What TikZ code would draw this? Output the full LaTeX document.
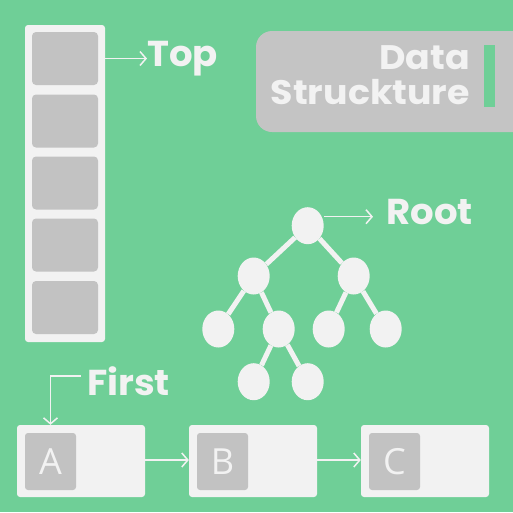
\documentclass[tikz,border=0pt]{standalone}
\usepackage{fontspec}
\setmainfont{Poppins}
\newfontfamily\titlefont[FakeStretch=1.07]{Poppins}
\newfontfamily\labelfont[FakeStretch=1.03]{Poppins}
\newfontfamily\letterfont{Open Sans}
\usetikzlibrary{shapes.geometric,arrows.meta}
\definecolor{bg}{HTML}{6FCF97}
\definecolor{lite}{HTML}{F2F2F2}
\definecolor{cellgray}{HTML}{C2C2C2}
\definecolor{boxgray}{HTML}{C4C4C4}
\tikzset{
  stackbox/.style={fill=lite, rounded corners=3pt, inner sep=0pt, minimum width=80pt, minimum height=317pt},
  stackcell/.style={fill=cellgray, rounded corners=4pt, inner sep=0pt, minimum width=66pt, minimum height=53pt},
  lbl/.style={text=lite, inner sep=0pt, font=\labelfont\fontsize{36}{36}\selectfont\bfseries},
  titletext/.style={text=lite, inner sep=0pt, font=\titlefont\fontsize{34}{34}\selectfont\bfseries},
  arr/.style={draw=lite, line width=1.5pt, -{Straight Barb[length=6pt,width=14pt]}},
  treenode/.style={ellipse, fill=lite, inner sep=0pt, minimum width=32pt, minimum height=37pt},
  treeedge/.style={draw=lite, line width=5pt},
  listbox/.style={fill=lite, rounded corners=3pt, inner sep=0pt, minimum width=128pt, minimum height=72pt},
  listcell/.style={fill=cellgray, rounded corners=3pt, inner sep=0pt, minimum width=51pt, minimum height=57pt, text=lite, font=\letterfont\fontsize{36}{36}\selectfont},
}
\begin{document}
\begin{tikzpicture}[x=1pt,y=-1pt]
\useasboundingbox (0,0) rectangle (513,512);
\clip (0,0) rectangle (513,512);
\fill[bg] (0,0) rectangle (513,512);

% stack
\node[stackbox] (stack) at (65,183.5) {};
\node[stackcell] (c1) at (65,58.5) {};
\node[stackcell] (c2) at (65,121) {};
\node[stackcell] (c3) at (65,183) {};
\node[stackcell] (c4) at (65,245) {};
\node[stackcell] (c5) at (65,307.5) {};
\node[lbl, anchor=base west] (top) at (147,66) {Top};
\draw[arr] (stack.east |- c1.center) -- (top.west |- c1.center);

% title box
\fill[boxgray, rounded corners=16pt] (256,31) rectangle (540,132);
\node[titletext, anchor=base east] (data) at (470,69) {Data};
\node[titletext, anchor=base east] (struct) at (470,104) {Struckture};
\fill[bg] (484,45) rectangle (495,107);

% tree
\node[treenode] (r) at (307.7,225.7) {};
\node[treenode] (l) at (253.7,276) {};
\node[treenode] (rr) at (353.7,276) {};
\node[treenode] (ll) at (218.3,329) {};
\node[treenode] (lr) at (278.7,329) {};
\node[treenode] (rl) at (328.7,329) {};
\node[treenode] (rrr) at (385.7,329) {};
\node[treenode] (lrl) at (253.7,381.7) {};
\node[treenode] (lrr) at (307.7,381.7) {};
\draw[treeedge] (r) -- (l);
\draw[treeedge] (r) -- (rr);
\draw[treeedge] (l) -- (ll);
\draw[treeedge] (l) -- (lr);
\draw[treeedge] (rr) -- (rl);
\draw[treeedge] (rr) -- (rrr);
\draw[treeedge] (lr) -- (lrl);
\draw[treeedge] (lr) -- (lrr);
\node[lbl, anchor=base west] (root) at (386,224) {Root};
\coordinate (rootend) at (373,216.7);
\draw[arr] (r.east |- rootend) -- (rootend);

% linked list
\node[listbox] (ba) at (81,461) {};
\node[listbox] (bb) at (253,461) {};
\node[listbox] (bc) at (425,461) {};
\node[listcell] (ca) at (50.5,461.5) {A};
\node[listcell] (cb) at (222.5,461.5) {B};
\node[listcell] (cc) at (394.5,461.5) {C};
\draw[arr] (ba.east |- 0,460) -- (bb.west |- 0,460);
\draw[arr] (bb.east |- 0,460) -- (bc.west |- 0,460);
\node[lbl, anchor=base west] (first) at (87,395) {First};
\coordinate (fs) at (81,376);
\draw[arr] (fs) -| (ca.north |- ba.north);
\end{tikzpicture}
\end{document}
